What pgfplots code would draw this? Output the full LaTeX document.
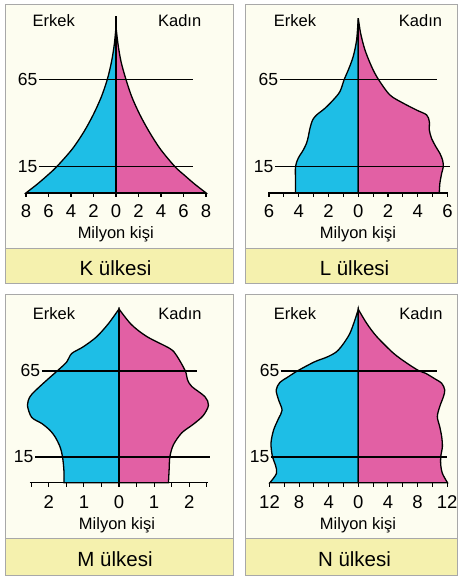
\documentclass[border=0pt]{standalone}
\usepackage{fontspec}
\setmainfont{Liberation Sans}
\usepackage{pgfplots}
\pgfplotsset{compat=1.18}
\definecolor{mblue}{HTML}{1EBEE6}
\definecolor{fpink}{HTML}{E260A4}
\definecolor{panelbg}{HTML}{FDFDF0}
\definecolor{labelbg}{HTML}{F5F1AE}
\definecolor{framegray}{HTML}{A8A8A8}
\newcommand{\txtfont}{\fontsize{16.5}{18}\selectfont}
\newcommand{\agefont}{\fontsize{17.5}{19}\selectfont}
\newcommand{\tickfont}{\fontsize{18.5}{20}\selectfont}
\newcommand{\boxfont}{\fontsize{20.5}{22}\selectfont}
\pgfplotsset{
  pyr/.style={scale only axis, anchor=south west, clip=false,
    ymin=0, ymax=100, axis x line*=bottom, axis y line=none, ytick=\empty,
    tick align=outside, major tick length=4pt,
    every tick/.style={black, line width=1.1pt},
    axis line style={black, line width=1.4pt},
    xticklabel style={font=\tickfont, anchor=base, yshift=-20.5pt}},
  male/.style={fill=mblue, draw=black, line width=1.3pt, smooth, mark=none},
  female/.style={fill=fpink, draw=black, line width=1.3pt, smooth, mark=none},
  hline/.style={black, line width=1.4pt, mark=none},
}
\begin{document}
\begin{tikzpicture}
\useasboundingbox (0,0) rectangle (458pt,577pt);
% panel backgrounds
\draw[framegray, line width=0.8pt, fill=panelbg] (5pt,294pt) rectangle (233pt,573pt);
\draw[framegray, line width=0.8pt, fill=labelbg] (5pt,294pt) rectangle (233pt,329pt);
\draw[framegray, line width=0.8pt, fill=panelbg] (245pt,294pt) rectangle (457.5pt,573pt);
\draw[framegray, line width=0.8pt, fill=labelbg] (245pt,294pt) rectangle (457.5pt,329pt);
\draw[framegray, line width=0.8pt, fill=panelbg] (5pt,2pt) rectangle (233pt,283pt);
\draw[framegray, line width=0.8pt, fill=labelbg] (5pt,2pt) rectangle (233pt,39pt);
\draw[framegray, line width=0.8pt, fill=panelbg] (245pt,2pt) rectangle (457.5pt,283pt);
\draw[framegray, line width=0.8pt, fill=labelbg] (245pt,2pt) rectangle (457.5pt,39pt);

% ---------------- K
\begin{axis}[pyr, at={(26pt,384.1pt)}, width=180pt, height=174.8pt,
  xmin=-8, xmax=8, xtick={-8,-6,-4,-2,0,2,4,6,8}, xticklabels={8,6,4,2,0,2,4,6,8}]
\addplot[male] coordinates {(-8,0) (-7,5) (-6.1,10) (-5.27,15) (-3.9,25) (-2.85,35) (-2.0,45) (-1.3,55) (-0.77,65) (-0.4,75) (-0.15,85) (0,95)} -- (0,0) -- cycle;
\addplot[female] coordinates {(8,0) (7,5) (6.1,10) (5.24,15) (3.95,25) (2.95,35) (2.1,45) (1.4,55) (0.88,65) (0.45,75) (0.18,85) (0,95)} -- (0,0) -- cycle;
\addplot[hline] coordinates {(0,0) (0,101)};
\addplot[hline] coordinates {(-6.85,65) (6.85,65)};
\addplot[hline] coordinates {(-6.85,15) (6.85,15)};
\node[anchor=east, font=\agefont, inner sep=1.5pt] at (axis cs:-6.85,65) {65};
\node[anchor=east, font=\agefont, inner sep=1.5pt] at (axis cs:-6.85,15) {15};
\end{axis}

% ---------------- L
\begin{axis}[pyr, at={(268.3pt,384.1pt)}, width=179.9pt, height=174.8pt,
  xmin=-6.05, xmax=6.05, xtick={-6,-5,-4,-3,-2,-1,0,1,2,3,4,5,6}, xticklabels={6,,4,,2,,0,,2,,4,,6}]
\addplot[male] coordinates {(-4.22,0) (-4.22,7) (-4.22,15) (-4.04,19.8) (-3.70,24.5) (-3.48,28.4) (-3.36,32.2) (-3.25,36.9) (-3.07,41.7) (-2.80,44.6) (-2.24,48.4) (-1.68,53.2) (-1.23,58) (-0.94,65) (-0.67,70.3) (-0.34,78) (-0.11,87.5) (0,100)} -- (0,0) -- cycle;
\addplot[female] coordinates {(5.45,0) (5.49,5.5) (5.61,11.2) (5.72,15) (5.67,18.8) (5.49,22.6) (5.22,26.4) (4.93,31.2) (4.78,36) (4.78,40.8) (4.60,44.6) (3.92,47.4) (3.03,51.3) (2.13,56) (1.35,65) (0.9,72.2) (0.45,81.8) (0.16,91.3) (0,100)} -- (0,0) -- cycle;
\addplot[hline] coordinates {(0,0) (0,100)};
\addplot[hline] coordinates {(-5.27,65) (5.27,65)};
\addplot[hline] coordinates {(-5.6,15) (6.2,15)};
\node[anchor=east, font=\agefont, inner sep=1.5pt] at (axis cs:-5.27,65) {65};
\node[anchor=east, font=\agefont, inner sep=1.5pt] at (axis cs:-5.6,15) {15};
\end{axis}

% ---------------- M
\begin{axis}[pyr, at={(29.55pt,94.3pt)}, width=178.9pt, height=172pt,
  xmin=-2.55, xmax=2.55, xtick={-2.5,-2,-1.5,-1,-0.5,0,0.5,1,1.5,2,2.5}, xticklabels={,2,,1,,0,,1,,2,},
  xticklabel style={yshift=-1pt}]
\addplot[male] coordinates {(-1.57,0) (-1.57,7) (-1.61,15) (-1.68,20.8) (-1.82,26.6) (-1.97,30.5) (-2.2,34.4) (-2.49,38) (-2.61,45) (-2.54,49.9) (-2.39,53.4) (-2.06,59.6) (-1.76,65) (-1.49,70.2) (-1.35,75.1) (-1.02,79) (-0.64,84.8) (-0.30,92.5) (0,101)} -- (0,0) -- cycle;
\addplot[female] coordinates {(1.41,0) (1.43,8) (1.45,15) (1.55,22) (1.79,29) (2.12,34) (2.40,39) (2.55,45) (2.45,50) (2.07,56) (1.95,60) (1.89,65) (1.64,74) (1.45,78) (0.79,85) (0.35,92) (0,101)} -- (0,0) -- cycle;
\addplot[hline] coordinates {(0,0) (0,101)};
\addplot[hline] coordinates {(-2.2,65) (2.23,65)};
\addplot[hline] coordinates {(-2.39,15) (2.59,15)};
\node[anchor=east, font=\agefont, inner sep=1.5pt] at (axis cs:-2.2,65) {65};
\node[anchor=east, font=\agefont, inner sep=1.5pt] at (axis cs:-2.39,15) {15};
\end{axis}

% ---------------- N
\begin{axis}[pyr, at={(269.5pt,94.3pt)}, width=177.6pt, height=172pt,
  xmin=-12, xmax=12, xtick={-12,-10,-8,-6,-4,-2,0,2,4,6,8,10,12}, xticklabels={12,,8,,4,,0,,4,,8,,12},
  xticklabel style={yshift=-1pt}]
\addplot[male] coordinates {(-11.95,0) (-11.05,5.4) (-11.2,10.3) (-11.6,15.1) (-11.8,22.9) (-11.45,30.6) (-10.77,37.4) (-10.3,42.2) (-10.77,48.1) (-11.1,53.9) (-10.6,58.3) (-9.6,61.2) (-8.18,65.1) (-5.9,70.3) (-4.1,73.3) (-2.7,77.1) (-1.14,86.8) (0,100.8)} -- (0,0) -- cycle;
\addplot[female] coordinates {(12.05,0) (11.36,5.4) (11.14,10.3) (11.14,15.1) (11.36,20.9) (11.27,26.7) (11.0,32.6) (10.68,38.4) (11.0,44.2) (11.5,50) (11.68,53.9) (11.27,57.8) (10.23,60.7) (9.1,63.6) (8.18,65.1) (6.6,69.4) (4.77,75.2) (2.5,84.9) (1.14,92.6) (0,100.8)} -- (0,0) -- cycle;
\addplot[hline] coordinates {(0,0) (0,100.8)};
\addplot[hline] coordinates {(-10.45,65) (10.6,65)};
\addplot[hline] coordinates {(-11.8,15) (12.05,15)};
\node[anchor=east, font=\agefont, inner sep=1.5pt] at (axis cs:-10.45,65) {65};
\node[anchor=east, font=\agefont, inner sep=1.5pt] at (axis cs:-11.8,15) {15};
\end{axis}

% ---------------- texts
\node[anchor=base, font=\txtfont] at (53.8pt,550pt) {Erkek};
\node[anchor=base, font=\txtfont] at (179.7pt,550pt) {Kadın};
\node[anchor=base, font=\txtfont] at (115.8pt,338.3pt) {Milyon kişi};
\node[anchor=base, font=\boxfont] at (115.5pt,301pt) {K ülkesi};

\node[anchor=base, font=\txtfont] at (295pt,550pt) {Erkek};
\node[anchor=base, font=\txtfont] at (420.5pt,550pt) {Kadın};
\node[anchor=base, font=\txtfont] at (358pt,338.3pt) {Milyon kişi};
\node[anchor=base, font=\boxfont] at (354.5pt,301pt) {L ülkesi};

\node[anchor=base, font=\txtfont] at (54pt,257pt) {Erkek};
\node[anchor=base, font=\txtfont] at (180pt,257pt) {Kadın};
\node[anchor=base, font=\txtfont] at (117pt,47pt) {Milyon kişi};
\node[anchor=base, font=\boxfont] at (115pt,10.3pt) {M ülkesi};

\node[anchor=base, font=\txtfont] at (295pt,257pt) {Erkek};
\node[anchor=base, font=\txtfont] at (421pt,257pt) {Kadın};
\node[anchor=base, font=\txtfont] at (358pt,47pt) {Milyon kişi};
\node[anchor=base, font=\boxfont] at (354.5pt,10.3pt) {N ülkesi};
\end{tikzpicture}
\end{document}
